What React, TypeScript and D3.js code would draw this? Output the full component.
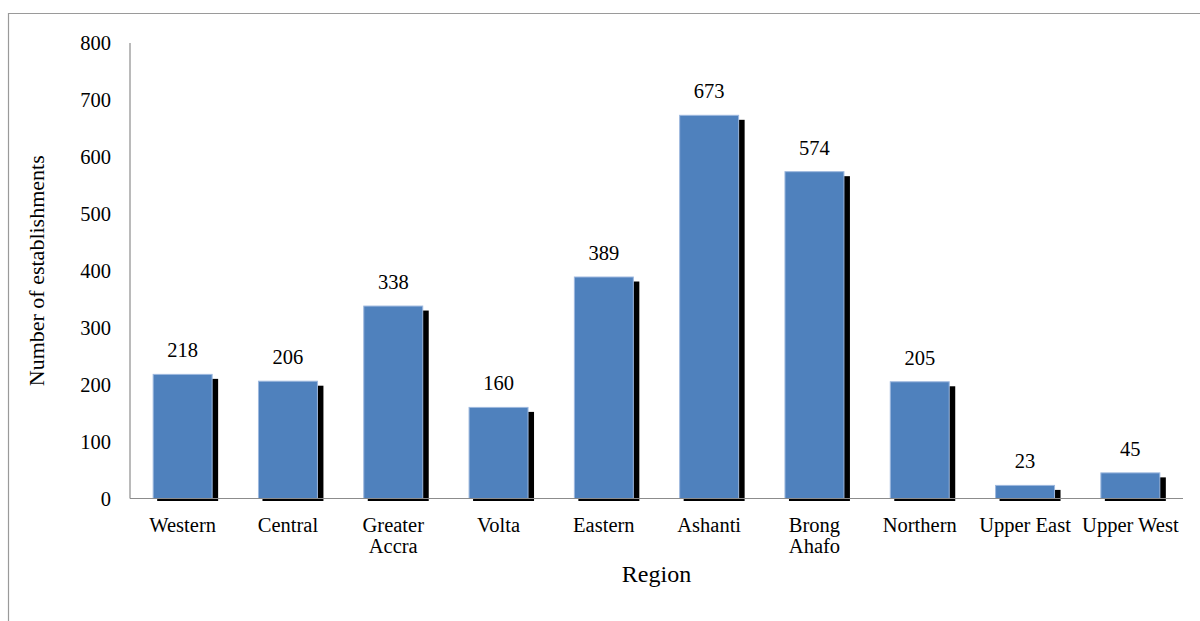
import React from "react";
import * as d3 from "d3";

const categories: string[][] = [
  ["Western"], ["Central"], ["Greater", "Accra"], ["Volta"], ["Eastern"],
  ["Ashanti"], ["Brong", "Ahafo"], ["Northern"], ["Upper East"], ["Upper West"],
];
const values: number[] = [218, 206, 338, 160, 389, 673, 574, 205, 23, 45];
const yTicks: number[] = [0, 100, 200, 300, 400, 500, 600, 700, 800];

const W = 1200;
const H = 621;
const left = 130;
const right = 1183;
const top = 43;
const bottom = 498.5;
const font = "Liberation Serif";

export default function App() {
  const keys = categories.map((c) => c.join(" "));
  const x = d3.scaleBand<string>().domain(keys).range([left, right]).paddingInner(0.44).paddingOuter(0.22);
  const y = d3.scaleLinear().domain([0, 800]).range([bottom, top]);
  const bw = x.bandwidth();

  return (
    <svg width={W} height={H} style={{ position: "absolute", left: 0, top: 0, background: "#fff", fontFamily: font }}>
      <rect x={0} y={0} width={W} height={H} fill="#fff" />
      {/* frame */}
      <line x1={8} y1={13.5} x2={W} y2={13.5} stroke="#9a9a9a" strokeWidth={1.2} />
      <line x1={8.5} y1={13} x2={8.5} y2={H} stroke="#9a9a9a" strokeWidth={1.2} />

      {/* y tick labels */}
      {yTicks.map((t) => (
        <text key={t} x={111} y={y(t)} dy="0.35em" textAnchor="end" style={{ fontFamily: font, fontSize: "20.5px" }} fill="#000">
          {t}
        </text>
      ))}

      {/* shadows */}
      {values.map((v, i) => {
        const bx = x(keys[i])!;
        const by = y(v);
        return (
          <rect key={"s" + i} x={bx + 4} y={by + 4.5} width={bw + 2} height={bottom + 2.5 - (by + 4.5)} fill="#000" />
        );
      })}
      {/* bars */}
      {values.map((v, i) => {
        const bx = x(keys[i])!;
        const by = y(v);
        return (
          <rect key={"b" + i} x={bx} y={by} width={bw} height={bottom - by} fill="#4F81BD" stroke="#9db8de" strokeWidth={1} />
        );
      })}

      {/* axes */}
      <line x1={left} y1={top} x2={left} y2={bottom} stroke="#8c8c8c" strokeWidth={1.2} />
      <line x1={left} y1={bottom} x2={right} y2={bottom} stroke="#8c8c8c" strokeWidth={1.2} />

      {/* value labels */}
      {values.map((v, i) => (
        <text key={"v" + i} x={x(keys[i])! + bw / 2} y={y(v) - 17} textAnchor="middle" style={{ fontFamily: font, fontSize: "20.5px" }} fill="#000">
          {v}
        </text>
      ))}

      {/* x labels */}
      {categories.map((c, i) => (
        <text key={"x" + i} x={x(keys[i])! + bw / 2} y={531.5} textAnchor="middle" style={{ fontFamily: font, fontSize: "20.5px" }} fill="#000">
          {c.map((line, j) => (
            <tspan key={j} x={x(keys[i])! + bw / 2} dy={j === 0 ? 0 : 21.5}>
              {line}
            </tspan>
          ))}
        </text>
      ))}

      {/* axis titles */}
      <text x={(left + right) / 2} y={581.5} textAnchor="middle" style={{ fontFamily: font, fontSize: "24px" }} fill="#000">
        Region
      </text>
      <text transform={`translate(44, ${(top + bottom) / 2}) rotate(-90)`} textAnchor="middle" style={{ fontFamily: font, fontSize: "22px" }} fill="#000">
        Number of establishments
      </text>
    </svg>
  );
}
